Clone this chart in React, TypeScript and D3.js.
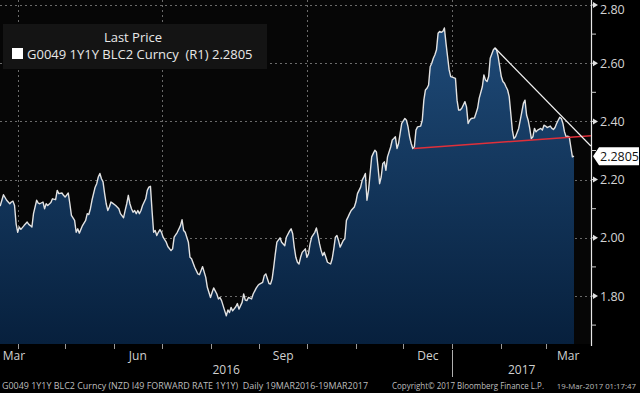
import React from "react";
import * as d3 from "d3";

// ---- data (days since 19-Mar-2016, value) ----
const dayOffsets: number[] = [
  0, 2, 4, 6, 8, 9, 10, 11, 12, 13, 14, 15, 17, 19, 20, 21, 22, 23, 25, 26, 27, 29, 30, 31, 32, 34, 35, 37, 38, 39, 41, 42, 43, 45, 46, 47, 49, 50, 51, 52, 54, 56, 57, 58, 59, 60, 62, 63, 64, 65,
  66, 67, 68, 69, 70, 71, 72, 73, 75, 77, 78, 80, 81, 82, 83, 84, 85, 86, 87, 88, 89, 90, 91, 92, 94, 95, 96, 97, 98, 99, 100, 101, 102, 103, 104, 105, 107, 108, 110, 111, 112, 114, 116, 117, 118, 119, 121, 122, 123, 125, 127, 128,
  130, 132, 133, 135, 136, 137, 139, 140, 141, 142, 144, 145, 146, 147, 148, 149, 151, 152, 153, 155, 156, 157, 158, 159, 161, 162, 164, 165, 166, 168, 169, 170, 171, 172, 173, 174, 175, 176, 177, 179, 180, 182, 183, 185, 186, 187, 188, 189, 190, 191,
  192, 193, 195, 196, 197, 198, 199, 201, 202, 203, 204, 205, 206, 207, 208, 209, 211, 212, 213, 214, 215, 216, 217, 218, 219, 220, 221, 222, 223, 224, 225, 226, 227, 228, 230, 231, 232, 233, 234, 235, 237, 238, 239, 240, 241, 242, 243, 244, 245, 246, 247, 249, 250, 251, 252,
  253, 254, 255, 256, 258, 259, 260, 261, 262, 263, 264, 265, 266, 268, 269, 270, 271, 272, 273, 274, 275, 276, 277, 278, 279, 280, 281, 282, 283, 284, 285, 286, 287, 288, 290, 291, 292, 293, 294, 296, 297, 298, 299, 300, 302, 303, 304, 305, 307, 308, 309, 310, 311, 312, 314, 315,
  316, 317, 318, 319, 320, 321, 322, 323, 324, 325, 326, 327, 328, 330, 331, 332, 333, 334, 335, 336, 337, 338, 339, 340, 341, 342, 344, 345, 346, 347, 348, 350, 351, 352, 353, 354, 355, 356, 357, 358, 359, 360, 361, 362, 363, 364, 365,
];
const prices: number[] = [
  2.12, 2.111, 2.148, 2.129, 2.117, 2.123, 2.126, 2.111, 2.048, 2.019, 2.037, 2.029, 2.042, 2.054, 2.046, 2.042, 2.037, 2.083, 2.129, 2.119, 2.117, 2.123, 2.1, 2.117, 2.111, 2.121, 2.134, 2.131, 2.163, 2.152, 2.154, 2.146, 2.14, 2.154, 2.117, 2.077, 2.06, 2.019, 2.031, 2.016, 2.042, 2.06, 2.083, 2.08, 2.1, 2.129, 2.174, 2.186, 2.209, 2.221,
  2.203, 2.192, 2.152, 2.117, 2.094, 2.106, 2.123, 2.119, 2.111, 2.1, 2.083, 2.069, 2.094, 2.117, 2.146, 2.117, 2.1, 2.088, 2.094, 2.083, 2.094, 2.083, 2.094, 2.111, 2.134, 2.163, 2.174, 2.177, 2.094, 2.019, 2.025, 2.008, 2.019, 2.028, 2.019, 2.002, 1.985, 1.97, 1.956, 1.962, 2.002, 2.019, 2.042, 2.062, 2.025, 2.019, 1.985, 1.933, 1.928, 1.899, 1.876, 1.873,
  1.901, 1.864, 1.83, 1.795, 1.812, 1.828, 1.807, 1.79, 1.795, 1.784, 1.749, 1.732, 1.752, 1.743, 1.761, 1.749, 1.763, 1.774, 1.755, 1.778, 1.807, 1.786, 1.784, 1.795, 1.79, 1.807, 1.828, 1.836, 1.841, 1.847, 1.87, 1.876, 1.859, 1.843, 1.841, 1.859, 1.899, 1.945, 1.985, 2.0, 1.985, 1.973, 2.002, 2.023, 2.031, 2.014, 1.968, 1.933, 1.916, 1.91,
  1.933, 1.95, 1.962, 1.933, 1.945, 1.979, 2.002, 2.019, 2.034, 2.008, 1.979, 1.956, 1.939, 1.95, 1.933, 1.916, 1.91, 1.928, 1.962, 2.002, 2.008, 1.991, 1.968, 1.979, 1.991, 1.997, 2.06, 2.071, 2.083, 2.094, 2.1, 2.106, 2.123, 2.152, 2.174, 2.198, 2.209, 2.221, 2.129, 2.163, 2.278, 2.29, 2.301, 2.295, 2.243, 2.186, 2.209, 2.255, 2.261, 2.232, 2.278, 2.312, 2.336, 2.341, 2.347,
  2.307, 2.324, 2.359, 2.393, 2.41, 2.404, 2.381, 2.347, 2.324, 2.307, 2.312, 2.37, 2.381, 2.384, 2.404, 2.473, 2.508, 2.514, 2.525, 2.588, 2.6, 2.617, 2.629, 2.646, 2.703, 2.709, 2.706, 2.709, 2.721, 2.669, 2.623, 2.577, 2.554, 2.552, 2.548, 2.473, 2.439, 2.439, 2.445, 2.468, 2.45, 2.393, 2.404, 2.41, 2.412, 2.428, 2.445, 2.479, 2.519, 2.56, 2.542, 2.537, 2.554, 2.617, 2.646, 2.652,
  2.646, 2.623, 2.588, 2.554, 2.537, 2.531, 2.519, 2.508, 2.485, 2.428, 2.37, 2.341, 2.347, 2.376, 2.404, 2.433, 2.462, 2.473, 2.422, 2.404, 2.376, 2.341, 2.347, 2.376, 2.364, 2.37, 2.376, 2.37, 2.387, 2.384, 2.379, 2.384, 2.376, 2.372, 2.379, 2.393, 2.404, 2.414, 2.41, 2.393, 2.364, 2.347, 2.349, 2.347, 2.312, 2.278, 2.2805,
];

// trend lines drawn on the chart (day offset, value)
const whiteTrendDays: number[] = [315, 375.7];
const whiteTrendValues: number[] = [2.652, 2.315];
const redTrendDays: number[] = [263.7, 375.7];
const redTrendValues: number[] = [2.307, 2.351];

const yMajorTicks: number[] = [1.8, 2.0, 2.2, 2.4, 2.6, 2.8];
const yMinorTicks: number[] = [1.7, 1.9, 2.1, 2.3, 2.5, 2.7];
const monthLabels: string[] = ["Mar", "Jun", "Sep", "Dec", "Mar"];
const yearLabels: string[] = ["2016", "2017"];
const lastPrice = 2.2805;
const legendTitle = "Last Price";
const legendText = "G0049 1Y1Y BLC2 Curncy  (R1) 2.2805";
const footerLeft = "G0049 1Y1Y BLC2 Curncy (NZD I49 FORWARD RATE 1Y1Y)  Daily 19MAR2016-19MAR2017";
const footerMid = "Copyright\u00A9 2017 Bloomberg Finance L.P.";
const footerRight = "19-Mar-2017 01:17:47";

const START = Date.UTC(2016, 2, 19);
const toDate = (d: number) => new Date(START + d * 864e5);

const W = 640;
const H = 393;
const plotRight = 591;
const plotBottom = 344;
const FONT = "'Open Sans', 'DejaVu Sans', sans-serif";

export default function App() {
  const x = d3
    .scaleUtc()
    .domain([new Date(Date.UTC(2016, 3, 1)), new Date(Date.UTC(2017, 0, 1))])
    .range([17.7, 452.3]);
  const y = d3.scaleLinear().domain([1.8, 2.8]).range([296, 5]);

  const data = dayOffsets.map((d, i) => ({ date: toDate(d), v: prices[i] }));
  const area = d3
    .area<{ date: Date; v: number }>()
    .x((d) => x(d.date))
    .y0(plotBottom)
    .y1((d) => y(d.v));
  const line = d3
    .line<{ date: Date; v: number }>()
    .x((d) => x(d.date))
    .y((d) => y(d.v));

  const white = whiteTrendDays.map((d, i) => ({ date: toDate(d), v: whiteTrendValues[i] }));
  const red = redTrendDays.map((d, i) => ({ date: toDate(d), v: redTrendValues[i] }));

  const leftDate = x.invert(0);
  const rightDate = x.invert(plotRight);
  const monthStarts = d3.utcMonth.range(d3.utcMonth.ceil(leftDate), rightDate);
  const quarterStarts = monthStarts.filter((m) => m.getUTCMonth() % 3 === 0);
  const labelMonths = monthStarts.filter((m) => [5, 8, 11].includes(m.getUTCMonth()) || (m.getUTCMonth() === 2 && m.getUTCFullYear() === 2017));
  const labelMonthsAll = [d3.utcMonth.floor(leftDate), ...labelMonths];
  const monthLabelPos = labelMonthsAll.map((m) => {
    const a = Math.max(0, x(m));
    const b = Math.min(plotRight, x(d3.utcMonth.offset(m, 1)));
    return Math.max((a + b) / 2, 14);
  });
  const yearBoundary = new Date(Date.UTC(2017, 0, 1));
  const yearPos = [(x(leftDate) + x(yearBoundary)) / 2, (x(yearBoundary) + plotRight) / 2];

  const lastY = y(lastPrice);

  return (
    <div style={{ position: "absolute", left: 0, top: 0, width: W, height: H }}>
      <svg width={W} height={H} style={{ display: "block", fontFamily: FONT }}>
        <defs>
          <linearGradient id="fillGrad" gradientUnits="userSpaceOnUse" x1="0" y1="20" x2="0" y2={plotBottom}>
            <stop offset="0%" stopColor="#1f4b79" />
            <stop offset="100%" stopColor="#07203d" />
          </linearGradient>
          <clipPath id="plotClip">
            <rect x={0} y={0} width={plotRight} height={plotBottom} />
          </clipPath>
        </defs>
        <rect x={0} y={0} width={W} height={H} fill="#000" />
        <rect x={0} y={0} width={plotRight} height={plotBottom} fill="#060606" />

        {/* grid */}
        <g stroke="#6a6a6a" strokeWidth={1} strokeDasharray="2,3">
          {yMajorTicks.map((t) => (
            <line key={"gy" + t} x1={0} x2={plotRight} y1={Math.round(y(t)) + 0.5} y2={Math.round(y(t)) + 0.5} />
          ))}
          {quarterStarts.map((q) => (
            <line key={"gx" + q.toISOString()} x1={Math.round(x(q)) + 0.5} x2={Math.round(x(q)) + 0.5} y1={0} y2={plotBottom} />
          ))}
        </g>

        {/* series */}
        <g clipPath="url(#plotClip)">
          <path d={area(data) || ""} fill="url(#fillGrad)" />
          <path d={line(data) || ""} fill="none" stroke="#e2e2e2" strokeWidth={1.4} strokeLinejoin="round" />
          <path d={line(red) || ""} fill="none" stroke="#e0303a" strokeWidth={1.5} />
          <path d={line(white) || ""} fill="none" stroke="#f2f2f2" strokeWidth={1.3} />
        </g>

        {/* legend */}
        <rect x={3} y={24} width={264} height={45} fill="#141414" />
        <text x={133} y={42} fill="#e8e8e8" fontSize={13} textAnchor="middle">
          {legendTitle}
        </text>
        <rect x={12} y={48} width={11} height={11} fill="#ffffff" />
        <text x={27} y={59} fill="#e8e8e8" fontSize={13} style={{ whiteSpace: "pre" }}>
          {legendText}
        </text>

        {/* right axis */}
        <line x1={plotRight + 0.5} x2={plotRight + 0.5} y1={0} y2={plotBottom + 2} stroke="#e8e8e8" strokeWidth={1.2} />
        {yMinorTicks.map((t) => (
          <line key={"mt" + t} x1={plotRight} x2={plotRight + 5} y1={y(t)} y2={y(t)} stroke="#cfcfcf" strokeWidth={1} />
        ))}
        {yMajorTicks.map((t) => (
          <g key={"yt" + t}>
            <line x1={plotRight} x2={plotRight + 3} y1={y(t)} y2={y(t)} stroke="#e0e0e0" />
            <path d={`M${plotRight + 2},${y(t) - 3}L${plotRight + 7},${y(t)}L${plotRight + 2},${y(t) + 3}Z`} fill="#e0e0e0" />
            <text x={plotRight + 9} y={Math.max(y(t) + 4.5, 13.5)} fill="#d4d4d4" fontSize={12.5}>
              {d3.format(".2f")(t)}
            </text>
          </g>
        ))}
        <path
          d={`M${plotRight + 2},${lastY}L${plotRight + 8},${lastY - 9}L${W - 1},${lastY - 9}L${W - 1},${lastY + 9}L${plotRight + 8},${lastY + 9}Z`}
          fill="#ffffff"
        />
        <text x={plotRight + 9} y={lastY + 4.5} fill="#111" fontSize={12.5}>
          {d3.format(".4f")(lastPrice)}
        </text>

        {/* bottom axis */}
        {monthStarts.map((m) => (
          <line key={"xt" + m.toISOString()} x1={Math.round(x(m)) + 0.5} x2={Math.round(x(m)) + 0.5} y1={plotBottom} y2={plotBottom + 5} stroke="#9a9a9a" />
        ))}
        {monthLabels.map((lab, i) => (
          <text key={"ml" + i} x={monthLabelPos[i]} y={360} fill="#d0d0d0" fontSize={12} textAnchor="middle">
            {lab}
          </text>
        ))}
        <line x1={Math.round(x(yearBoundary)) + 0.5} x2={Math.round(x(yearBoundary)) + 0.5} y1={350} y2={377} stroke="#b0b0b0" />
        {yearLabels.map((lab, i) => (
          <text key={"yl" + i} x={yearPos[i]} y={374} fill="#d0d0d0" fontSize={12} textAnchor="middle">
            {lab}
          </text>
        ))}

        {/* footer */}
        <g fill="#bdbdbd" fontSize={8.5}>
          <text x={2} y={389} textLength={366} lengthAdjust="spacingAndGlyphs" style={{ whiteSpace: "pre" }}>
            {footerLeft}
          </text>
          <text x={392} y={389} textLength={152} lengthAdjust="spacingAndGlyphs">
            {footerMid}
          </text>
          <text x={636} y={389} textAnchor="end" fontSize={7.8}>
            {footerRight}
          </text>
        </g>
      </svg>
    </div>
  );
}
